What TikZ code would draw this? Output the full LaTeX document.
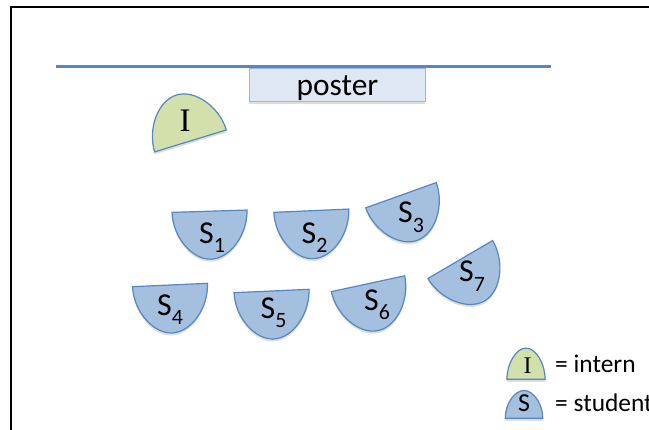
\documentclass[tikz,border=0pt]{standalone}
\usepackage{fontspec}
\setmainfont{Carlito}
\newfontfamily\serifI{Liberation Serif}
\definecolor{lineblue}{HTML}{5587C4}
\definecolor{stufill}{HTML}{A5BFDF}
\definecolor{intfill}{HTML}{D2E1AC}
\definecolor{posterfill}{HTML}{DEE7F3}
\definecolor{posterline}{HTML}{9DB8DB}
\tikzset{
  hshape/.pic={\path[pic actions] (-37.5,0) .. controls (-37.5,-24) and (-19.5,-48) .. (0,-48) .. controls (19.5,-48) and (37.5,-24) .. (37.5,0) -- cycle;},
  stustyle/.style={fill=stufill, draw=lineblue, line width=1.2bp},
  intstyle/.style={fill=intfill, draw=lineblue, line width=1.2bp},
  shadowstyle/.style={fill=black, opacity=0.13},
  lab/.style={inner sep=0pt, anchor=base west, font=\fontsize{32}{32}\selectfont},
  leglab/.style={inner sep=0pt, anchor=base west, font=\fontsize{25.5}{25.5}\selectfont},
}
\newcommand\subnum[1]{\raisebox{-0.3em}{\fontsize{22}{22}\selectfont #1}}
\newcommand\halfdisk[4]{%
  \pic[rotate=#3, shadowstyle] at (#1,-#2-2.5) {hshape};
  \pic[rotate=#3, #4] at (#1,-#2) {hshape};
}
\begin{document}
\begin{tikzpicture}[x=1bp,y=1bp]
\useasboundingbox (0,0) rectangle (649,-429);
\clip (0,0) rectangle (649,-429);
\fill[white] (0,0) rectangle (649,-429);
% frame
\draw[line width=1.4bp] (11,-440) -- (11,-7) -- (660,-7);
% wall
\draw[lineblue, line width=3bp] (56,-66) -- (551,-66);
% poster
\fill[black, opacity=0.13] (249,-70.5) rectangle (425,-103.5);
\node[draw=posterline, fill=posterfill, line width=1bp, minimum width=176bp, minimum height=33bp, inner sep=0pt] (poster) at (337,-84.5) {};
\node[inner sep=0pt, anchor=base, font=\fontsize{31.5}{31.5}\selectfont] (postertext) at (337.5,-95.7) {poster};
% intern
\halfdisk{190.5}{140.9}{197}{intstyle}
\node[inner sep=0pt, anchor=base, font=\fontsize{33}{33}\selectfont\serifI] (intern) at (185,-131.7) {I};
% students
\halfdisk{209.5}{211.2}{1.8}{stustyle}
\halfdisk{311.3}{210.7}{2.5}{stustyle}
\halfdisk{401}{195.2}{19.7}{stustyle}
\halfdisk{170}{285}{2.6}{stustyle}
\halfdisk{271.5}{291}{2.6}{stustyle}
\halfdisk{368}{283.7}{12.2}{stustyle}
\halfdisk{460.3}{259.5}{30.4}{stustyle}
\node[lab] (s1) at (199,-243.3) {S\subnum{1}};
\node[lab] (s2) at (301.5,-243) {S\subnum{2}};
\node[lab] (s3) at (398,-222.7) {S\subnum{3}};
\node[lab] (s4) at (157,-315) {S\subnum{4}};
\node[lab] (s5) at (260.5,-318) {S\subnum{5}};
\node[lab] (s6) at (364,-310) {S\subnum{6}};
\node[lab] (s7) at (459,-281.7) {S\subnum{7}};
% legend
\pic[rotate=180, xscale=0.51, yscale=0.65, shadowstyle] at (526,-381.8) {hshape};
\pic[rotate=180, xscale=0.51, yscale=0.65, intstyle] at (526,-379.3) {hshape};
\node[inner sep=0pt, anchor=base, font=\fontsize{24}{24}\selectfont\serifI] (legI) at (527.5,-373) {I};
\node[leglab] (legintern) at (555,-372.7) {= intern};
\pic[rotate=180, xscale=0.5, yscale=0.58, shadowstyle] at (524,-420.8) {hshape};
\pic[rotate=180, xscale=0.5, yscale=0.58, stustyle] at (524,-418.3) {hshape};
\node[inner sep=0pt, anchor=base, font=\fontsize{26}{26}\selectfont] (legS) at (524,-411.7) {S};
\node[leglab] (legstudent) at (555,-411.7) {= student};
\end{tikzpicture}
\end{document}
